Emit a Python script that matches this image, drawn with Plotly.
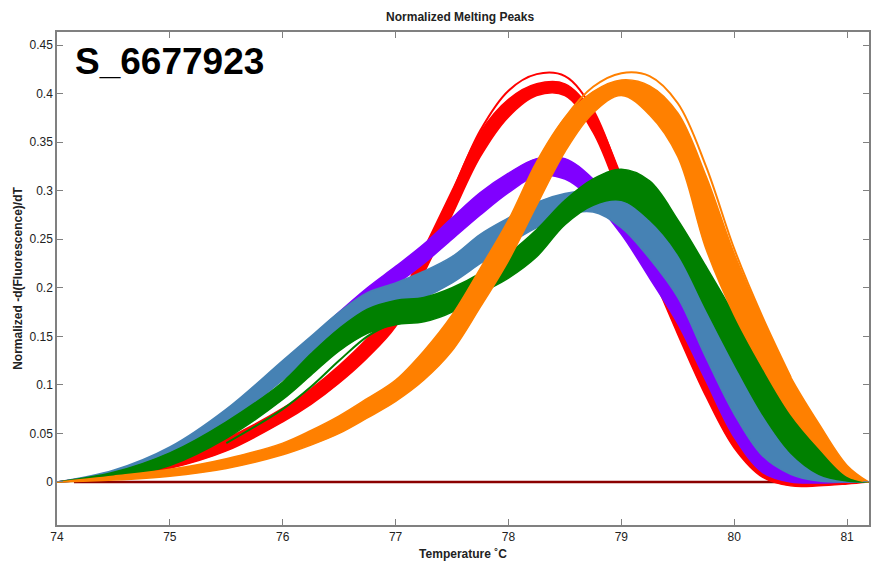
import plotly.graph_objects as go

temps = [74, 74.5, 75, 75.5, 76, 76.25, 76.5, 76.75, 77, 77.25, 77.5, 77.75,
         78, 78.25, 78.5, 78.75, 79, 79.25, 79.5, 79.75, 80, 80.25, 80.5, 80.75, 81, 81.19]

red_lo = [0, 0.004, 0.014, 0.032, 0.062, 0.080, 0.102, 0.128, 0.160, 0.215, 0.275, 0.335,
          0.376, 0.398, 0.398, 0.360, 0.290, 0.220, 0.152, 0.088, 0.035, 0.005, -0.004, -0.004, -0.002, 0]
red_hi = [0, 0.009, 0.023, 0.045, 0.076, 0.096, 0.120, 0.148, 0.182, 0.240, 0.300, 0.360,
          0.394, 0.410, 0.410, 0.380, 0.315, 0.245, 0.175, 0.105, 0.048, 0.014, 0.003, 0.000, 0.000, 0]

purple_lo = [0, 0.005, 0.022, 0.060, 0.108, 0.132, 0.158, 0.182, 0.203, 0.225, 0.250, 0.275,
             0.298, 0.315, 0.312, 0.290, 0.255, 0.210, 0.163, 0.104, 0.046, 0.010, 0.000, -0.001, 0, 0]
purple_hi = [0, 0.010, 0.032, 0.074, 0.122, 0.148, 0.175, 0.200, 0.222, 0.245, 0.272, 0.298,
             0.318, 0.333, 0.333, 0.312, 0.278, 0.232, 0.190, 0.128, 0.070, 0.027, 0.008, 0.002, 0, 0]

blue_lo = [0, 0.006, 0.025, 0.058, 0.105, 0.127, 0.150, 0.170, 0.180, 0.190, 0.205, 0.225,
           0.245, 0.262, 0.275, 0.278, 0.262, 0.230, 0.190, 0.128, 0.070, 0.027, 0.008, 0.001, 0, 0]
blue_hi = [0, 0.012, 0.036, 0.075, 0.125, 0.150, 0.175, 0.195, 0.205, 0.217, 0.232, 0.255,
           0.272, 0.288, 0.297, 0.300, 0.292, 0.270, 0.235, 0.178, 0.122, 0.070, 0.030, 0.008, 0.001, 0]

green_lo = [0, 0.004, 0.017, 0.045, 0.085, 0.110, 0.135, 0.153, 0.162, 0.165, 0.175, 0.194,
            0.210, 0.232, 0.265, 0.285, 0.290, 0.270, 0.235, 0.178, 0.122, 0.070, 0.030, 0.008, 0.001, 0]
green_hi = [0, 0.010, 0.030, 0.062, 0.103, 0.132, 0.158, 0.178, 0.187, 0.190, 0.200, 0.215,
            0.235, 0.260, 0.290, 0.312, 0.322, 0.310, 0.270, 0.222, 0.172, 0.117, 0.070, 0.035, 0.008, 0]

orange_lo = [0, 0.002, 0.006, 0.014, 0.028, 0.038, 0.050, 0.066, 0.083, 0.105, 0.135, 0.180,
             0.228, 0.285, 0.340, 0.380, 0.398, 0.378, 0.335, 0.240, 0.172, 0.118, 0.070, 0.035, 0.006, 0]
orange_hi = [0, 0.006, 0.013, 0.024, 0.040, 0.053, 0.068, 0.086, 0.105, 0.135, 0.172, 0.220,
             0.270, 0.330, 0.375, 0.402, 0.414, 0.408, 0.380, 0.315, 0.235, 0.168, 0.108, 0.060, 0.017, 0]

# individual outlying replicate curves
red_out_t = [77.25, 77.5, 77.75, 78, 78.25, 78.5, 78.75, 79, 79.25]
red_out = [0.235, 0.298, 0.362, 0.403, 0.420, 0.418, 0.383, 0.312, 0.242]
orange_out_t = [78.25, 78.5, 78.75, 79, 79.25, 79.5, 79.75, 80, 80.25, 80.5]
orange_out = [0.325, 0.375, 0.407, 0.421, 0.418, 0.390, 0.325, 0.240, 0.170, 0.108]
green_out_t = [75.5, 76, 76.25, 76.5, 76.75, 77]
green_out = [0.040, 0.075, 0.098, 0.125, 0.150, 0.165]

baseline_t = [74.15, 81.0]
baseline_y = [0, 0]

groups = [
    ("red", red_lo, red_hi, "#FF0000"),
    ("purple", purple_lo, purple_hi, "#8000FF"),
    ("blue", blue_lo, blue_hi, "#4682B4"),
    ("green", green_lo, green_hi, "#008000"),
    ("orange", orange_lo, orange_hi, "#FF8000"),
]

fig = go.Figure()

fig.add_trace(go.Scatter(x=baseline_t, y=baseline_y, mode="lines",
                         line=dict(color="#8B0000", width=2.5), hoverinfo="skip"))

for name, lo, hi, col in groups:
    fig.add_trace(go.Scatter(x=temps, y=lo, mode="lines", name=name,
                             line=dict(color=col, width=1.5, shape="spline"),
                             hoverinfo="skip"))
    fig.add_trace(go.Scatter(x=temps, y=hi, mode="lines", name=name,
                             line=dict(color=col, width=1.5, shape="spline"),
                             fill="tonexty", fillcolor=col, hoverinfo="skip"))
    if name == "red":
        fig.add_trace(go.Scatter(x=red_out_t, y=red_out, mode="lines",
                                 line=dict(color=col, width=2, shape="spline"), hoverinfo="skip"))
    if name == "green":
        fig.add_trace(go.Scatter(x=green_out_t, y=green_out, mode="lines",
                                 line=dict(color=col, width=2, shape="spline"), hoverinfo="skip"))
    if name == "orange":
        fig.add_trace(go.Scatter(x=orange_out_t, y=orange_out, mode="lines",
                                 line=dict(color=col, width=2, shape="spline"), hoverinfo="skip"))

axis_common = dict(
    showgrid=False, zeroline=False, showline=True, linecolor="#808080", linewidth=1.5,
    mirror="ticks", ticks="inside", ticklen=6, tickcolor="#808080",
    tickfont=dict(family="Liberation Sans, Arial", size=12, color="#222222"),
)

fig.update_layout(
    width=873, height=566,
    margin=dict(l=57, r=2, t=32, b=41),
    paper_bgcolor="white", plot_bgcolor="white",
    showlegend=False,
    title=dict(text="<b>Normalized Melting Peaks</b>", x=0.527, xanchor="center",
               y=0.97, yanchor="middle",
               font=dict(family="Liberation Sans, Arial", size=12, color="#222222")),
    xaxis=dict(range=[74, 81.194], tickvals=[74, 75, 76, 77, 78, 79, 80, 81],
               title=dict(text="<b>Temperature ˚C</b>", standoff=6,
                          font=dict(family="Liberation Sans, Arial", size=12, color="#222222")),
               **axis_common),
    yaxis=dict(range=[-0.0443, 0.4634], tickvals=[0, 0.05, 0.1, 0.15, 0.2, 0.25, 0.3, 0.35, 0.4, 0.45],
               ticktext=["0", "0.05", "0.1", "0.15", "0.2", "0.25", "0.3", "0.35", "0.4", "0.45"],
               title=dict(text="<b>Normalized -d(Fluorescence)/dT</b>", standoff=4,
                          font=dict(family="Liberation Sans, Arial", size=12, color="#222222")),
               **axis_common),
    annotations=[dict(text="<b>S_6677923</b>", x=0.02, y=0.94, xref="paper", yref="paper",
                      xanchor="left", yanchor="middle", showarrow=False,
                      font=dict(family="Liberation Sans, Arial", size=37, color="black"))],
)

fig.write_html("out.html")
